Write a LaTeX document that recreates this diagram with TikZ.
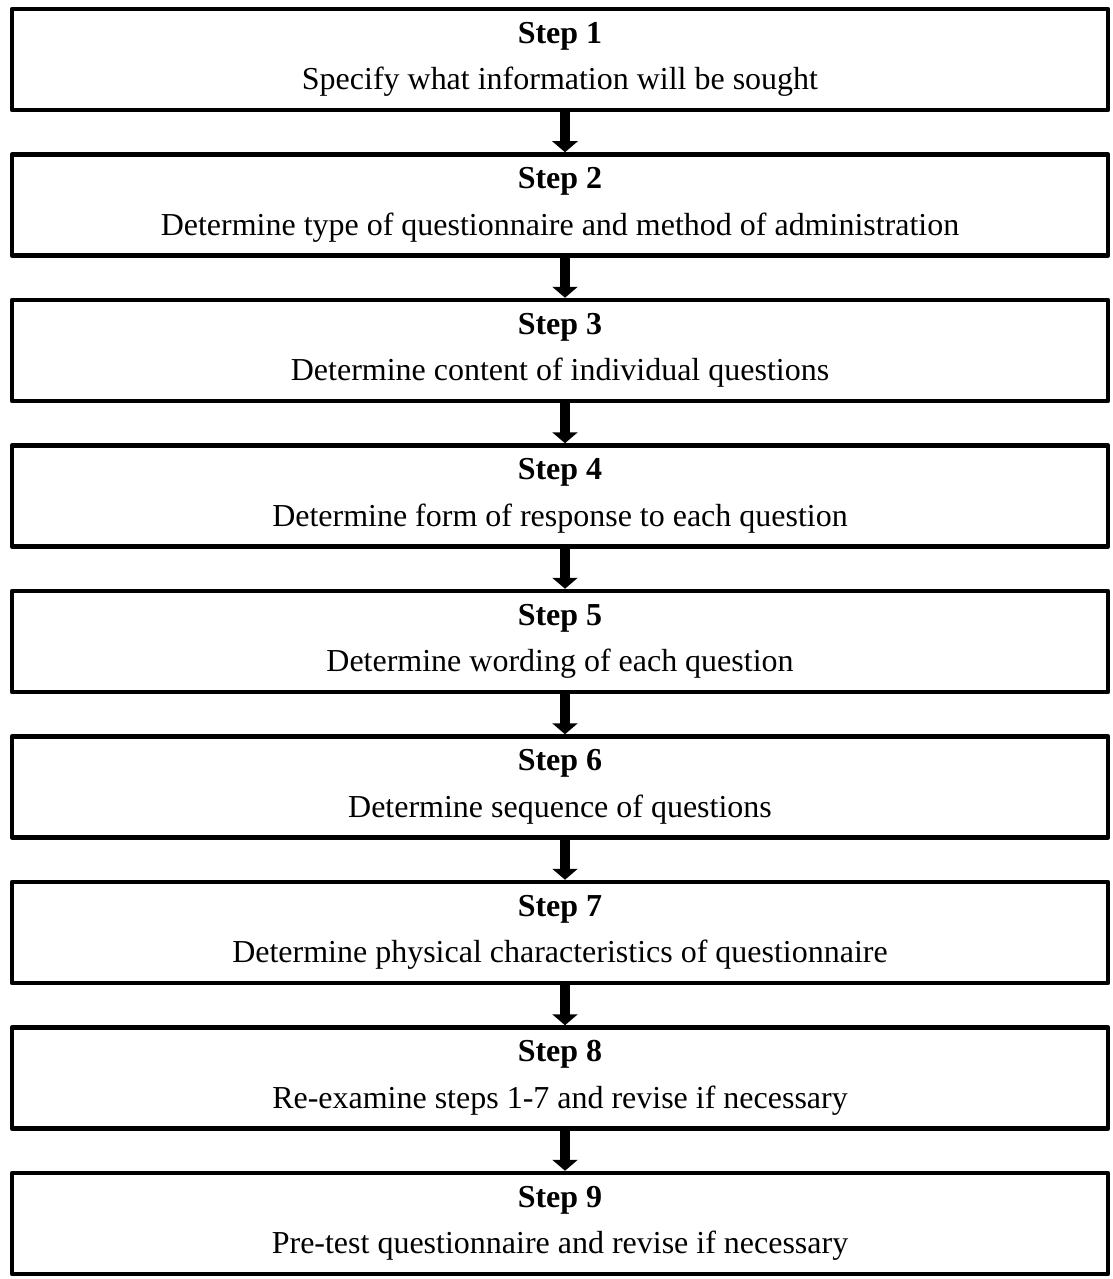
\documentclass[tikz,border=0pt]{standalone}
\usepackage{fontspec}
\setmainfont{Liberation Serif}
\usepackage{xcolor}
\usepackage{tikz}
\usetikzlibrary{arrows.meta,positioning}
\tikzset{
  paso/.style={draw=black,fill=white,line width=0.09cm,line join=round,align=center,
    font=\fontsize{18.2}{26.5}\selectfont,minimum width=21.92cm,minimum height=2.02cm,inner sep=0pt},
  flecha/.style={-{Triangle[width=0.5cm,length=0.22cm]},line width=0.2cm,black},
}

\begin{document}
\begin{tikzpicture}
  \useasboundingbox (0,0) rectangle (22.24,-25.58);
  \node[paso] (p1) at (11.2,-1.19) {\textbf{Step 1}\\Specify what information will be sought};
  \node[paso] (p2) at (11.2,-4.10) {\textbf{Step 2}\\Determine type of questionnaire and method of administration};
  \node[paso] (p3) at (11.2,-7.01) {\textbf{Step 3}\\Determine content of individual questions};
  \node[paso] (p4) at (11.2,-9.92) {\textbf{Step 4}\\Determine form of response to each question};
  \node[paso] (p5) at (11.2,-12.83) {\textbf{Step 5}\\Determine wording of each question};
  \node[paso] (p6) at (11.2,-15.74) {\textbf{Step 6}\\Determine sequence of questions};
  \node[paso] (p7) at (11.2,-18.65) {\textbf{Step 7}\\Determine physical characteristics of questionnaire};
  \node[paso] (p8) at (11.2,-21.56) {\textbf{Step 8}\\Re-examine steps 1-7 and revise if necessary};
  \node[paso] (p9) at (11.2,-24.47) {\textbf{Step 9}\\Pre-test questionnaire and revise if necessary};
  \draw[flecha] ([xshift=1mm]p1.south) -- ([xshift=1mm]p2.north);
  \draw[flecha] ([xshift=1mm]p2.south) -- ([xshift=1mm]p3.north);
  \draw[flecha] ([xshift=1mm]p3.south) -- ([xshift=1mm]p4.north);
  \draw[flecha] ([xshift=1mm]p4.south) -- ([xshift=1mm]p5.north);
  \draw[flecha] ([xshift=1mm]p5.south) -- ([xshift=1mm]p6.north);
  \draw[flecha] ([xshift=1mm]p6.south) -- ([xshift=1mm]p7.north);
  \draw[flecha] ([xshift=1mm]p7.south) -- ([xshift=1mm]p8.north);
  \draw[flecha] ([xshift=1mm]p8.south) -- ([xshift=1mm]p9.north);
\end{tikzpicture}
\end{document}
